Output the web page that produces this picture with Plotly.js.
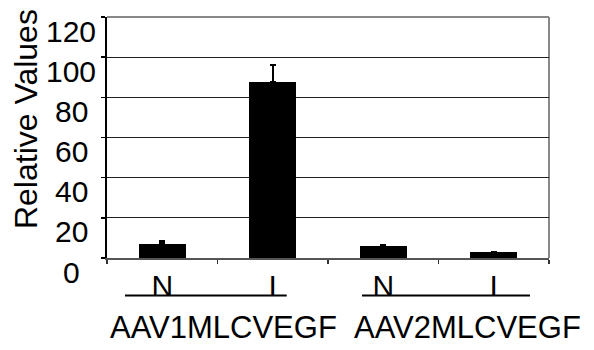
<!DOCTYPE html>
<html>
<head>
<meta charset="utf-8">
<script src="https://cdn.plot.ly/plotly-3.0.1.min.js"></script>
<style>html,body{margin:0;padding:0;background:#fff;}#chart{width:594px;height:350px;}</style>
</head>
<body>
<div id="chart"></div>
<script>
// Data
const categories = ['N1', 'I1', 'N2', 'I2'];
const categoryLabels = ['N', 'I', 'N', 'I'];
const values = [7.1, 87.6, 6.1, 2.8];
const errorsUp = [1.0, 8.4, 0.5, 0.3];
const yTickValues = [0, 20, 40, 60, 80, 100, 120];
const groupLabels = ['AAV1MLCVEGF', 'AAV2MLCVEGF'];
const yTitle = 'Relative Values';

const FONT = '"Liberation Sans", Arial, sans-serif';

const trace = {
  type: 'bar',
  x: categories,
  y: values,
  width: 0.425,
  marker: {color: '#000000', line: {width: 0}},
  error_y: {
    type: 'data',
    symmetric: false,
    array: errorsUp,
    arrayminus: errorsUp.map(() => 0),
    color: '#000000',
    thickness: 2.5,
    width: 3
  },
  hoverinfo: 'none'
};

const annotations = [];
yTickValues.forEach(v => {
  annotations.push({
    xref: 'paper', yref: 'y', x: -0.0814, y: v, yshift: -14,
    text: String(v), showarrow: false, xanchor: 'center', yanchor: 'middle',
    font: {family: FONT, size: 30, color: '#000'}
  });
});
const groupX = [0.2647, 0.8156];
groupLabels.forEach((g, i) => {
  annotations.push({
    xref: 'paper', yref: 'paper', x: groupX[i], y: -0.29,
    text: g, showarrow: false, xanchor: 'center', yanchor: 'middle',
    font: {family: FONT, size: 31, color: '#000'}
  });
});
annotations.push({
  xref: 'paper', yref: 'paper', x: -0.183, y: 0.577,
  text: yTitle, textangle: -90, showarrow: false, xanchor: 'center', yanchor: 'middle',
  font: {family: FONT, size: 32, color: '#000'}
});

const shapes = [
  // top and right gray frame
  {type: 'line', xref: 'paper', yref: 'paper', x0: 0, x1: 1, y0: 1, y1: 1, line: {color: '#888888', width: 2}, layer: 'below'},
  {type: 'line', xref: 'paper', yref: 'paper', x0: 1, x1: 1, y0: 0, y1: 1, line: {color: '#888888', width: 2}, layer: 'below'},
  // group underlines
  {type: 'line', xref: 'paper', yref: 'paper', x0: 0.0407, x1: 0.4066, y0: -0.156, y1: -0.156, line: {color: '#000', width: 2}},
  {type: 'line', xref: 'paper', yref: 'paper', x0: 0.577, x1: 0.957, y0: -0.156, y1: -0.156, line: {color: '#000', width: 2}}
];

const layout = {
  width: 594, height: 350,
  margin: {l: 107, r: 45, t: 17, b: 92, pad: 0},
  paper_bgcolor: '#ffffff', plot_bgcolor: '#ffffff',
  showlegend: false,
  font: {family: FONT, color: '#000'},
  xaxis: {
    type: 'category',
    categoryorder: 'array', categoryarray: categories,
    tickvals: categories, ticktext: categoryLabels,
    tickson: 'boundaries',
    ticks: 'outside', ticklen: 4, tickcolor: '#333', tickwidth: 1.5,
    showline: true, linecolor: '#555', linewidth: 2,
    showgrid: false, zeroline: false,
    tickfont: {family: FONT, size: 30, color: '#000'},
    range: [-0.5, 3.5],
    fixedrange: true
  },
  yaxis: {
    range: [0, 120], tickvals: yTickValues, showticklabels: false,
    ticks: 'outside', ticklen: 4, tickcolor: '#000', tickwidth: 1.5,
    showline: true, linecolor: '#000', linewidth: 2,
    showgrid: true, gridcolor: '#222', gridwidth: 1.2,
    zeroline: false,
    fixedrange: true
  },
  annotations: annotations,
  shapes: shapes,
  bargap: 0
};

Plotly.newPlot('chart', [trace], layout, {staticPlot: true, displayModeBar: false});
</script>
</body>
</html>
